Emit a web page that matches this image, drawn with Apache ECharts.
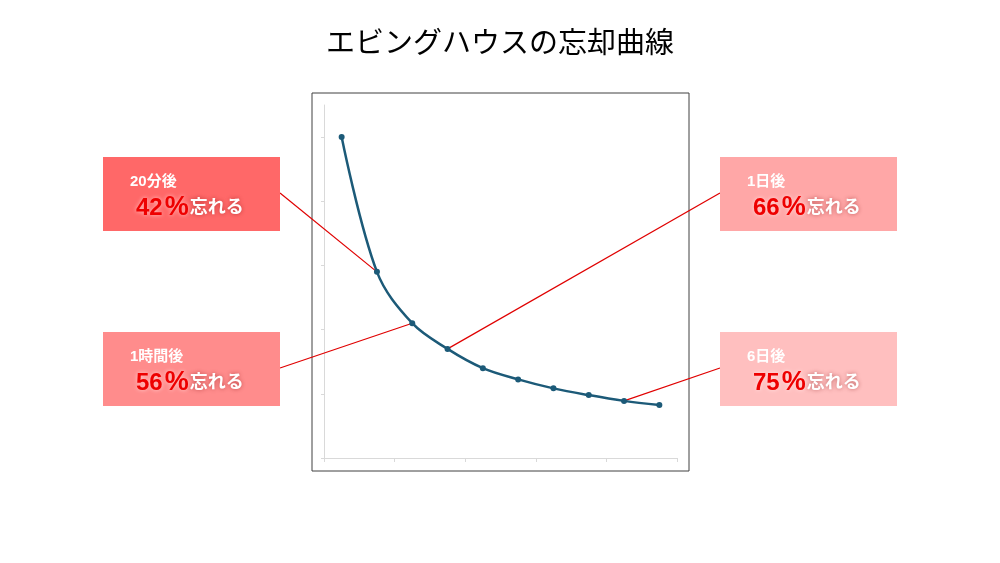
<!DOCTYPE html>
<html>
<head>
<meta charset="utf-8">
<script src="https://cdn.jsdelivr.net/npm/echarts@6/dist/echarts.min.js"></script>
<style>
html, body { margin: 0; padding: 0; background: #fff; }
#main { width: 1000px; height: 563px; }
</style>
</head>
<body>
<div id="main"></div>
<script>
// 記憶の保持率 (%) - 図から読み取り
var categories = ['p1', 'p2', 'p3', 'p4', 'p5', 'p6', 'p7', 'p8', 'p9', 'p10'];
var retention = [100, 58, 42, 34, 28, 24.5, 21.7, 19.6, 17.8, 16.5];
var yTicks = [0, 20, 40, 60, 80, 100];

// 吹き出し
var noteTimes = ['20分後', '1時間後', '1日後', '6日後'];
var notePercents = ['42%', '56%', '66%', '75%'];
var notePoints = [1, 2, 3, 8];

var boxColors = ['#ff6868', '#ff8c8c', '#ffa7a7', '#ffbfbf'];
var boxPos = [[103, 157], [103, 332], [720, 157], [720, 332]];
var boxW = 177, boxH = 74;
var fontJp = "'Liberation Sans','Noto Sans CJK JP',sans-serif";

var myChart = echarts.init(document.getElementById('main'));

var option = {
    animation: false,
    backgroundColor: '#fff',
    title: {
        text: 'エビングハウスの忘却曲線',
        left: 'center',
        top: 22,
        textStyle: {
            fontFamily: "'Noto Sans CJK JP',sans-serif",
            fontWeight: 'normal',
            fontSize: 29,
            color: '#000'
        }
    },
    grid: { left: 324, right: 323, top: 105, bottom: 105, containLabel: false },
    xAxis: {
        type: 'category',
        data: categories,
        boundaryGap: true,
        axisLine: { lineStyle: { color: '#d9d9d9', width: 1 } },
        axisTick: { show: true, interval: 1, length: 4, lineStyle: { color: '#d9d9d9' } },
        axisLabel: { show: false },
        splitLine: { show: false }
    },
    yAxis: {
        type: 'value',
        min: 0,
        max: 110,
        interval: 20,
        axisLine: { show: true, lineStyle: { color: '#d9d9d9', width: 1 } },
        axisTick: { show: true, length: 3, customValues: yTicks, lineStyle: { color: '#d9d9d9' } },
        axisLabel: { show: false },
        splitLine: { show: false }
    },
    series: [{
        name: '保持率',
        type: 'line',
        data: retention,
        smooth: 0.35,
        symbol: 'circle',
        symbolSize: 6,
        z: 5,
        lineStyle: { color: '#1c5a78', width: 2.5 },
        itemStyle: { color: '#1c5a78' }
    }]
};
myChart.setOption(option);

// 枠と吹き出し
var graphics = [{
    type: 'rect',
    shape: { x: 312, y: 93, width: 377, height: 378 },
    style: { fill: 'none', stroke: '#404040', lineWidth: 1 },
    z: 0
}];

for (var i = 0; i < noteTimes.length; i++) {
    var bx = boxPos[i][0], by = boxPos[i][1];
    var pctText = notePercents[i];
    graphics.push({
        type: 'rect',
        shape: { x: bx, y: by, width: boxW, height: boxH },
        style: { fill: boxColors[i] },
        z: 10
    });
    graphics.push({
        type: 'text',
        x: bx + 27,
        y: by + 25,
        style: {
            text: noteTimes[i],
            fill: '#fff',
            font: 'bold 15px ' + fontJp,
            verticalAlign: 'middle',
            shadowColor: 'rgba(120,0,0,0.45)',
            shadowBlur: 4
        },
        z: 11
    });
    graphics.push({
        type: 'text',
        x: bx + 33,
        y: by + 51,
        style: {
            text: '{p|' + pctText.slice(0, -1) + '}{s|' + pctText.slice(-1) + '}{w|忘れる}',
            verticalAlign: 'middle',
            rich: {
                p: {
                    fill: '#ee0000',
                    font: 'bold 24px ' + fontJp,
                    textShadowColor: 'rgba(255,255,255,0.6)',
                    textShadowBlur: 4
                },
                s: {
                    fill: '#ee0000',
                    font: 'bold 27px ' + fontJp,
                    padding: [0, 1, 0, 2],
                    textShadowColor: 'rgba(255,255,255,0.6)',
                    textShadowBlur: 4
                },
                w: {
                    fill: '#fff',
                    font: 'bold 18px ' + fontJp,
                    textShadowColor: 'rgba(120,0,0,0.45)',
                    textShadowBlur: 4
                }
            }
        },
        z: 11
    });
    var pt = myChart.convertToPixel({ seriesIndex: 0 }, [notePoints[i], retention[notePoints[i]]]);
    var ex = bx < 500 ? bx + boxW : bx;
    graphics.push({
        type: 'line',
        shape: { x1: ex, y1: by + 36, x2: pt[0], y2: pt[1] },
        style: { stroke: '#e00000', lineWidth: 1.2 },
        z: 1
    });
}

myChart.setOption({ graphic: graphics });
</script>
</body>
</html>
